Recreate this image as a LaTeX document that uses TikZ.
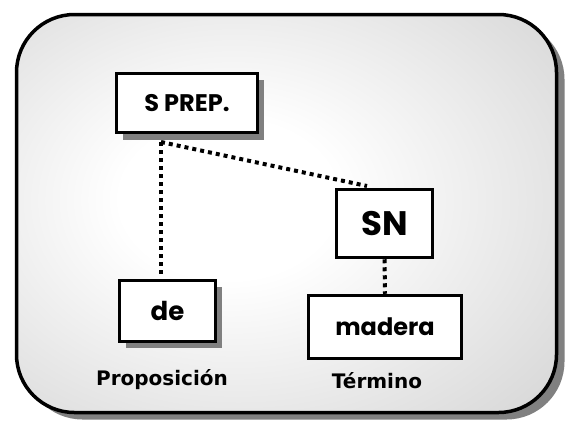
\documentclass[tikz,border=0pt]{standalone}
\usepackage{fontspec}
\setmainfont{DejaVu Sans}
\newfontfamily\boxfont{Poppins}
\pgfdeclareradialshading{bgshade}{\pgfpoint{-6bp}{2bp}}{color(0bp)=(white); color(10bp)=(white); color(55bp)=(gray!50); color(100bp)=(gray!50)}
\tikzset{
  wordbox/.style={draw=black, fill=white, line width=3.5pt, inner sep=0pt, font=\boxfont\bfseries},
  dotline/.style={line width=4pt, dash pattern=on 4pt off 4pt},
  caption/.style={font=\bfseries\fontsize{20}{20}\selectfont, anchor=base, inner sep=0pt}
}
\begin{document}
\begin{tikzpicture}[x=1pt,y=-1pt]
\useasboundingbox (0,0) rectangle (569,421);
% outer panel shadow and panel
\fill[gray, rounded corners=58pt] (24.5,21.5) rectangle (564.5,419.5);
\draw[line width=3.5pt, rounded corners=58pt, shading=bgshade] (16.5,14.5) rectangle (556.5,412.5);
% box shadows
\fill[gray] (122.5,79.5) rectangle (263.5,139.5);
\fill[gray] (125.5,286.5) rectangle (221.5,347.5);
% boxes
\node[wordbox, minimum width=141pt, minimum height=59pt, font=\boxfont\bfseries\fontsize{24}{24}\selectfont] (sp) at (187,103) {S PREP.};
\node[wordbox, minimum width=96pt, minimum height=68pt, font=\boxfont\bfseries\fontsize{34}{34}\selectfont] (sn) at (384.5,223.5) {SN};
\node[wordbox, minimum width=96pt, minimum height=61pt, font=\boxfont\bfseries\fontsize{26}{26}\selectfont] (de) at (167.5,311) {de};
\node[wordbox, minimum width=153pt, minimum height=63pt, font=\boxfont\bfseries\fontsize{24}{24}\selectfont] (ma) at (385,327) {madera};
% connectors
\coordinate (j) at (161,142);
\coordinate (snin) at (367,186);
\draw[dotline, shorten >=4pt] (j) -- (j |- de.north);
\draw[dotline] (j) -- (snin);
\draw[dotline] (sn.south) -- (ma.north);
% captions
\node[caption] (cap1) at (162,385) {Proposición};
\node[caption] (cap2) at (377,388) {Término};
\end{tikzpicture}
\end{document}
